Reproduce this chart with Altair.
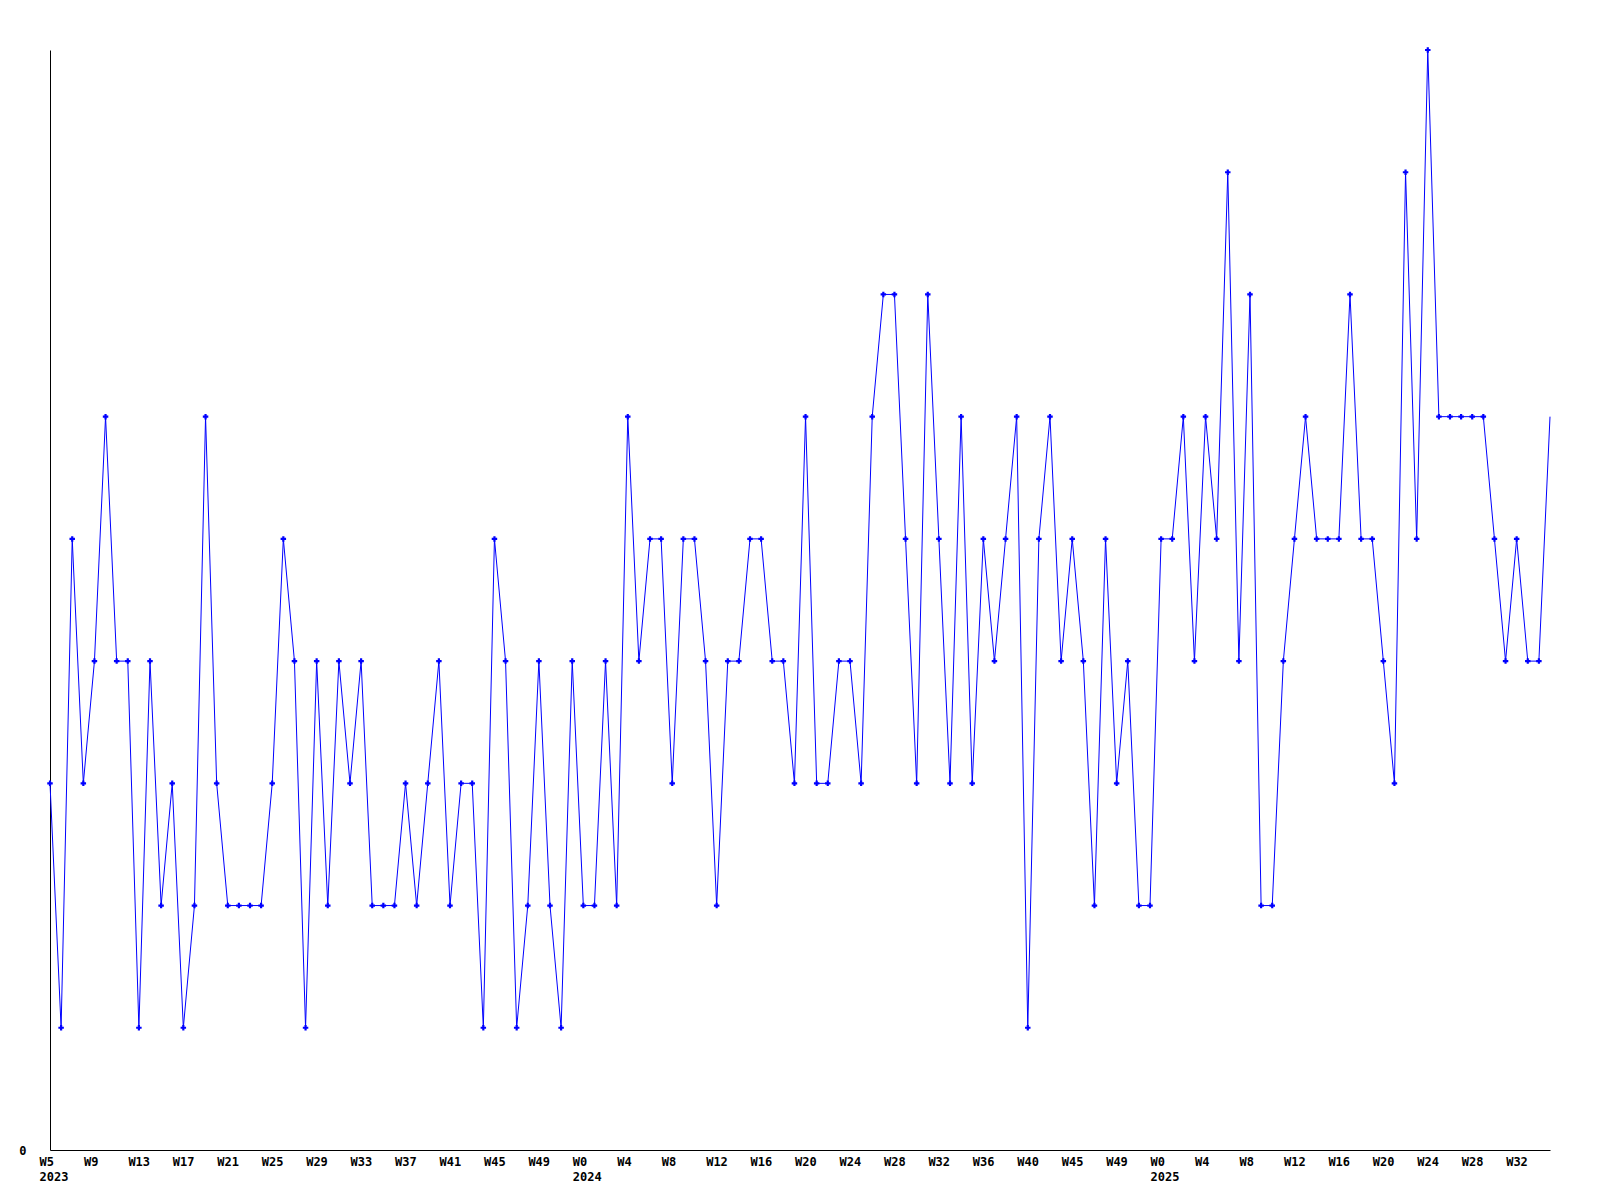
import json
import altair as alt
import pandas as pd

# weekly counts, first week = W5 2023
values = [3, 1, 5, 3, 4, 6, 4, 4, 1, 4, 2, 3, 1, 2, 6, 3, 2, 2, 2, 2,
          3, 5, 4, 1, 4, 2, 4, 3, 4, 2, 2, 2, 3, 2, 3, 4, 2, 3, 3, 1,
          5, 4, 1, 2, 4, 2, 1, 4, 2, 2, 4, 2, 6, 4, 5, 5, 3, 5, 5, 4,
          2, 4, 4, 5, 5, 4, 4, 3, 6, 3, 3, 4, 4, 3, 6, 7, 7, 5, 3, 7,
          5, 3, 6, 3, 5, 4, 5, 6, 1, 5, 6, 4, 5, 4, 2, 5, 3, 4, 2, 2,
          5, 5, 6, 4, 6, 5, 8, 4, 7, 2, 2, 4, 5, 6, 5, 5, 5, 7, 5, 5,
          4, 3, 8, 5, 9, 6, 6, 6, 6, 6, 5, 4, 5, 4, 4, 6]

# tick labels (one every 4 weeks)
tick_weeks = ["W5", "W9", "W13", "W17", "W21", "W25", "W29", "W33", "W37", "W41", "W45", "W49",
              "W0", "W4", "W8", "W12", "W16", "W20", "W24", "W28", "W32", "W36", "W40", "W45", "W49",
              "W0", "W4", "W8", "W12", "W16", "W20", "W24", "W28", "W32"]
tick_years = ["2023", "", "", "", "", "", "", "", "", "", "", "",
              "2024", "", "", "", "", "", "", "", "", "", "", "", "",
              "2025", "", "", "", "", "", "", "", ""]

df = pd.DataFrame({"week": list(range(len(values))), "count": values})
df["marker"] = [1] * (len(values) - 1) + [0]

tick_pos = [4 * k for k in range(len(tick_weeks))]
label_arr = [[w, y] if y else [w] for w, y in zip(tick_weeks, tick_years)]
label_expr = json.dumps(label_arr) + "[round(datum.value / 4)]"

FONT = "DejaVu Sans Mono"

x_enc = alt.X("week:Q",
              scale=alt.Scale(domain=[0, len(values) - 1], nice=False, zero=False),
              axis=alt.Axis(values=tick_pos, labelExpr=label_expr, title=None,
                            ticks=False, tickSize=0, grid=False,
                            domainColor="black", domainWidth=1,
                            labelAlign="left", labelBaseline="top",
                            labelOffset=-11, labelPadding=6,
                            labelFont=FONT, labelFontSize=12, labelFontWeight="bold",
                            labelColor="black", labelLineHeight=15,
                            labelOverlap=False, labelFlush=False, labelBound=False))
y_enc = alt.Y("count:Q",
              scale=alt.Scale(domain=[0, 9], nice=False),
              axis=alt.Axis(values=[0], title=None, ticks=False, tickSize=0, grid=False,
                            domainColor="black", domainWidth=1,
                            labelAlign="right", labelBaseline="middle", labelPadding=24,
                            labelFont=FONT, labelFontSize=12, labelFontWeight="bold",
                            labelColor="black"))

base = alt.Chart(df)
line = base.mark_line(color="#0000ff", strokeWidth=1).encode(x=x_enc, y=y_enc)
pts = base.transform_filter("datum.marker == 1").mark_point(
    shape="cross", filled=True, size=30, color="#0000ff", opacity=1
).encode(x=x_enc, y=y_enc)

chart = (line + pts).properties(
    width=1500, height=1100,
    autosize=alt.AutoSizeParams(type="none"),
    padding={"left": 42, "top": 42, "right": 30, "bottom": 60},
    background="white",
).configure_view(stroke=None)

chart.save("out.html", embed_options={"renderer": "svg", "actions": False})
